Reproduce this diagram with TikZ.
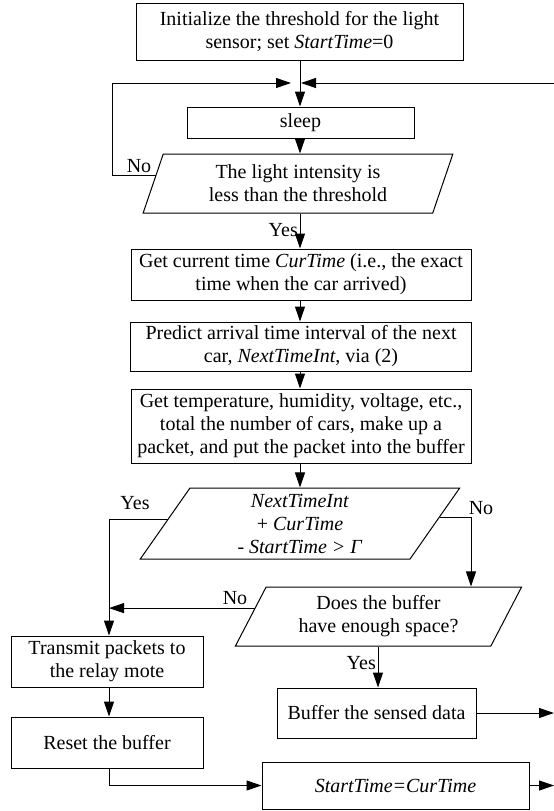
\documentclass[tikz,border=0pt]{standalone}
\usepackage{fontspec}
\setmainfont{Liberation Serif}
\usetikzlibrary{shapes.geometric,arrows.meta,calc}
\begin{document}
\begin{tikzpicture}[x=1pt,y=-1pt,
  every node/.style={font=\fontsize{20}{23}\selectfont},
  box/.style={draw, rectangle, align=center, inner sep=1pt, line width=1pt},
  para/.style={draw, trapezium, trapezium stretches=true, align=center, inner sep=1pt, line width=1pt},
  arr/.style={line width=1pt, -{Triangle[length=15pt,width=10pt]}},
  lab/.style={inner sep=0pt}]
\useasboundingbox (0,0) rectangle (554,811);
% boxes
\node[box, minimum width=327pt, minimum height=57pt] (init) at (299.5,31.5)
  {Initialize the threshold for the light\\sensor; set \textit{StartTime}=0};
\node[box, minimum width=227pt, minimum height=31pt] (sleep) at (300.5,122.5) {sleep};
\node[para, trapezium left angle=71, trapezium right angle=109,
  minimum width=310pt, minimum height=59pt] (p1) at (298,183.5)
  {The light intensity is\\less than the threshold};
\node[box, minimum width=340pt, minimum height=51pt] (cur) at (301,274.5)
  {Get current time \textit{CurTime} (i.e., the exact\\time when the car arrived)};
\node[box, minimum width=341pt, minimum height=49pt] (pred) at (301,346.5)
  {Predict arrival time interval of the next\\car, \textit{NextTimeInt}, via (2)};
\node[box, minimum width=340pt, minimum height=74pt] (get) at (301,426)
  {Get temperature, humidity, voltage, etc.,\\total the number of cars, make up a\\packet, and put the packet into the buffer};
\node[para, trapezium left angle=65, trapezium right angle=115,
  minimum width=320pt, minimum height=71pt] (p2) at (300,523.5)
  {\textit{NextTimeInt}\\+ \textit{CurTime}\\- \textit{StartTime > Γ}};
\node[para, trapezium left angle=63, trapezium right angle=117,
  minimum width=287pt, minimum height=59pt] (p3) at (378.5,616.5)
  {Does the buffer\\have enough space?};
\node[box, minimum width=192pt, minimum height=51pt] (tx) at (107,661.5)
  {Transmit packets to\\the relay mote};
\node[box, minimum width=192pt, minimum height=51pt] (reset) at (107,742.5)
  {Reset the buffer};
\node[box, minimum width=199pt, minimum height=50pt] (buf) at (376.5,713)
  {Buffer the sensed data};
\node[box, minimum width=267pt, minimum height=47pt] (st) at (395.5,785.5)
  {\textit{StartTime=CurTime}};
% coordinates
\coordinate (mainx) at (300,83);
\coordinate (ltip) at (291,83);
\coordinate (rtip) at (301,83);
\coordinate (rin) at (554,83);
\coordinate (lx) at (112,83);
\coordinate (p1l) at ($(p1.top left corner)!0.36!(p1.bottom left corner)$);
\coordinate (p2l) at ($(p2.top left corner)!0.44!(p2.bottom left corner)$);
\coordinate (p2r) at ($(p2.top right corner)!0.41!(p2.bottom right corner)$);
\coordinate (p3l) at ($(p3.top left corner)!0.36!(p3.bottom left corner)$);
\coordinate (yx) at (109,500);
\coordinate (nx) at (471,500);
\coordinate (bout) at (554,713);
\coordinate (sout) at (554,785.5);
% connectors
\draw[arr] (init.south -| mainx) -- (sleep.north -| mainx);
\draw[arr] (p1l) -- (p1l -| lx) -- (lx) -- (ltip);
\draw[arr] (rin) -- (rtip);
\draw[arr] (sleep.south -| mainx) -- (p1.north -| mainx);
\draw[arr] (p1.south -| mainx) -- (cur.north -| mainx);
\draw[arr] (cur.south -| mainx) -- (pred.north -| mainx);
\draw[arr] (pred.south -| mainx) -- (get.north -| mainx);
\draw[arr] (get.south -| mainx) -- (p2.north -| mainx);
\draw[arr] (p2l) -- (p2l -| yx) -- (tx.north -| yx);
\draw[arr] (p2r) -- (p2r -| nx) -- (p3.north -| nx);
\draw[arr] (p3l) -- (p3l -| yx);
\draw[arr] (tx.south -| yx) -- (reset.north -| yx);
\draw[arr] (reset.south -| yx) |- (st.west);
\draw[arr] (p3.south -| 378,0) -- (buf.north -| 378,0);
\draw[arr] (buf.east) -- (buf.east -| bout);
\draw[arr] (st.east) -- (st.east -| sout);
% labels
\node[lab, anchor=base] at (139,172) {No};
\node[lab, anchor=base east] at (298,236) {Yes};
\node[lab, anchor=base] at (135,509) {Yes};
\node[lab, anchor=base] at (481,514) {No};
\node[lab, anchor=base] at (235,604) {No};
\node[lab, anchor=base east] at (376,669) {Yes};
\end{tikzpicture}
\end{document}
